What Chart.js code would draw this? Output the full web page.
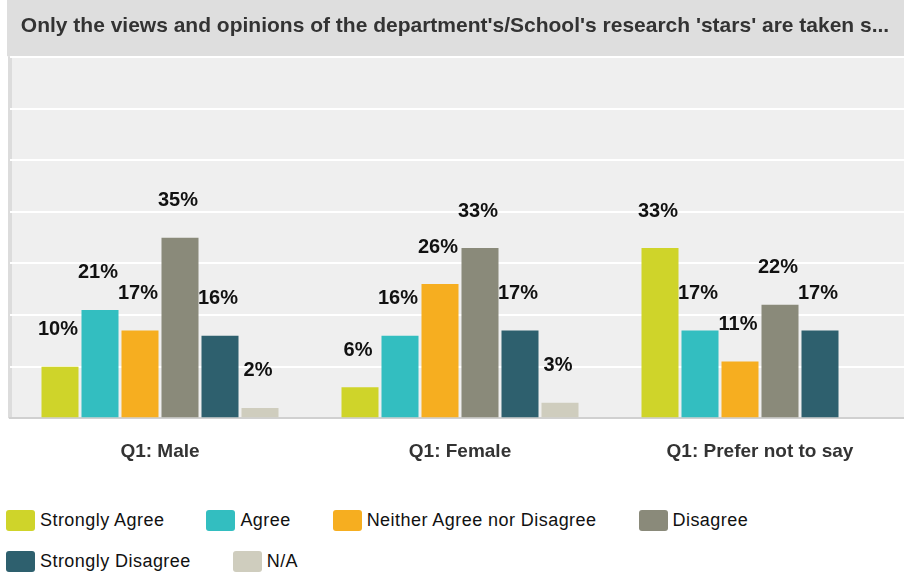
<!DOCTYPE html>
<html>
<head>
<meta charset="utf-8">
<title>Research stars survey</title>
<script src="https://cdn.jsdelivr.net/npm/chart.js@4.4.0/dist/chart.umd.min.js"></script>
<style>
  html, body { margin: 0; padding: 0; background: #fff; }
  #wrap { position: relative; width: 904px; height: 577px; overflow: hidden; font-family: "Liberation Sans", Arial, sans-serif; }
  #myChart { position: absolute; left: 0; top: 0; }
  #legend { position: absolute; left: 6px; top: 510px; width: 890px; display: flex; flex-wrap: wrap; row-gap: 20px; }
  .item { display: flex; align-items: center; margin-right: 42px; height: 21px; font-size: 18px; letter-spacing: 0.45px; color: #111; }
  .box { width: 29px; height: 21px; border-radius: 3px; margin-right: 5px; }
</style>
</head>
<body>
<div id="wrap">
  <canvas id="myChart" width="912" height="477"></canvas>
  <div id="legend"></div>
</div>
<script>
const fontFamily = "'Liberation Sans', Arial, sans-serif";

const titleText = "Only the views and opinions of the department's/School's research 'stars' are taken s...";
const categories = ["Q1: Male", "Q1: Female", "Q1: Prefer not to say"];
const answers = ["Strongly Agree", "Agree", "Neither Agree nor Disagree", "Disagree", "Strongly Disagree", "N/A"];
const colors = ["#cfd42a", "#33bec0", "#f6ae20", "#8a8a7a", "#2e606e", "#cfcdbe"];

// percent of respondents per answer, in category order
const stronglyAgree = [10, 6, 33];
const agree = [21, 16, 17];
const neither = [17, 26, 11];
const disagree = [35, 33, 22];
const stronglyDisagree = [16, 17, 17];
const notApplicable = [2, 3, null];

const yMax = 70;
const yStep = 10;

const seriesValues = [stronglyAgree, agree, neither, disagree, stronglyDisagree, notApplicable];

// grey title band, plot panel and its left edge
const panelBackground = {
    id: "panelBackground",
    beforeDraw(chart) {
        const { ctx, chartArea: a } = chart;
        ctx.save();
        ctx.fillStyle = "#dedede";
        ctx.fillRect(7, 0, chart.width - 7, a.top - 1);
        ctx.fillStyle = "#efefef";
        ctx.fillRect(a.left, a.top, a.right - a.left, a.bottom - a.top);
        ctx.fillStyle = "#dcdcdc";
        ctx.fillRect(a.left - 2, a.top - 1, 4, a.bottom - a.top + 1);
        ctx.restore();
    }
};

// percentage written above every bar
const valueLabels = {
    id: "valueLabels",
    afterDatasetsDraw(chart) {
        const ctx = chart.ctx;
        ctx.save();
        ctx.font = "bold 20px " + fontFamily;
        ctx.fillStyle = "#111";
        ctx.textAlign = "center";
        ctx.textBaseline = "middle";
        chart.data.datasets.forEach((ds, i) => {
            chart.getDatasetMeta(i).data.forEach((bar, j) => {
                const v = ds.data[j];
                if (v == null) return;
                ctx.fillText(v + "%", bar.x - 2, bar.y - 37);
            });
        });
        ctx.restore();
    }
};

const ctx = document.querySelector("#myChart");

new Chart(ctx, {
    type: "bar",
    data: {
        labels: categories,
        datasets: answers.map((name, i) => ({
            label: name,
            data: seriesValues[i],
            backgroundColor: colors[i],
            borderWidth: 0,
            barPercentage: 0.925,
            categoryPercentage: 0.8
        }))
    },
    options: {
        responsive: false,
        animation: false,
        devicePixelRatio: 1,
        layout: { padding: { left: 0, right: 2, top: 0, bottom: 0 } },
        plugins: {
            legend: { display: false },
            tooltip: { enabled: false },
            title: {
                display: true,
                text: titleText,
                color: "#333",
                font: { family: fontFamily, size: 21, weight: "bold" },
                padding: { top: 14, bottom: 18 }
            }
        },
        scales: {
            x: {
                grid: { display: false },
                border: { color: "#d0d0d0", width: 2 },
                ticks: {
                    color: "#333",
                    padding: 14,
                    font: { family: fontFamily, size: 19, weight: "bold" }
                }
            },
            y: {
                min: 0,
                max: yMax,
                ticks: { display: false, stepSize: yStep },
                grid: { color: "#fff", lineWidth: 2, drawTicks: false },
                border: { display: false },
                afterFit(scale) {
                    // keeps a narrow margin left of the plot panel
                    scale.width = 10;
                }
            }
        }
    },
    plugins: [panelBackground, valueLabels]
});

// legend rows under the chart
const legend = document.querySelector("#legend");
answers.forEach((name, i) => {
    const item = document.createElement("div");
    item.className = "item";
    const box = document.createElement("span");
    box.className = "box";
    box.style.background = colors[i];
    item.appendChild(box);
    item.appendChild(document.createTextNode(name));
    legend.appendChild(item);
});
</script>
</body>
</html>
